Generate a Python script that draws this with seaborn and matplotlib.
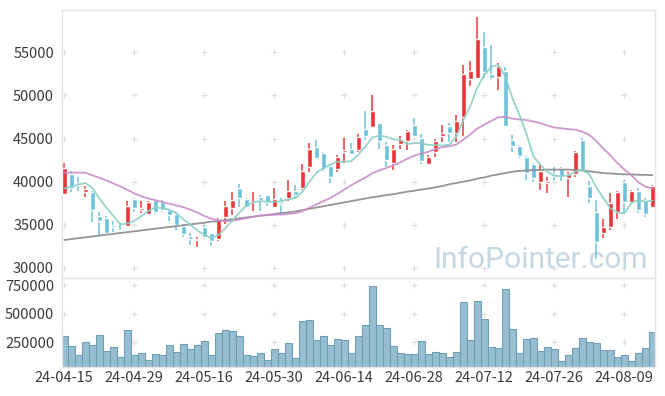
import matplotlib
matplotlib.use("Agg")
import matplotlib.pyplot as plt
import numpy as np
import pandas as pd
import seaborn as sns

# daily candles, 24-04-15 .. 24-08-16 (KRX trading days)
holidays = ["2024-05-01", "2024-05-06", "2024-05-15", "2024-06-06", "2024-08-15"]

open_ = [38600, 40900, 39800, 38850, 38850, 36050, 35800, 35000, 34450, 34900,
         38000, 36700, 36250, 37850, 37600, 36700, 36300, 34900, 33700, 33250,
         34750, 34000, 33300, 35900, 37000, 39300, 38000, 37600, 38250, 38450,
         37100, 37600, 38100, 38900, 39300, 41750, 44050, 43350, 41850, 41450,
         43400, 43800, 43700, 46100, 46300, 46800, 44300, 42200, 44350, 44750,
         46600, 45100, 42050, 43400, 45300, 46450, 45700, 47550, 51900, 52000,
         55600, 52500, 52100, 52850, 44850, 44150, 42850, 42050, 40000, 39800,
         40850, 41550, 40450, 40850, 44850, 39500, 36500, 34000, 34700, 36450,
         40000, 37600, 38900, 37850, 37100]
high = [42150, 41250, 40600, 39550, 38950, 36450, 36050, 35500, 35200, 37750,
        38150, 37800, 37770, 38000, 37850, 36800, 36500, 35100, 34000, 33600,
        34950, 34100, 35800, 37800, 38850, 39750, 38150, 38750, 38450, 38500,
        39250, 38150, 40150, 39650, 42050, 44450, 44850, 43400, 41950, 43100,
        45050, 44450, 45550, 48150, 50050, 46850, 44550, 44250, 45250, 46000,
        47350, 45550, 43100, 44900, 46600, 46800, 47750, 53550, 53950, 59150,
        57400, 55850, 53800, 53350, 45450, 44250, 43000, 42150, 41950, 40600,
        41750, 41650, 41100, 43550, 45050, 40100, 37900, 35700, 38650, 38950,
        40200, 39050, 39250, 38100, 39650]
low = [38450, 38750, 38900, 38200, 35300, 33850, 34000, 34150, 34200, 34850,
       36500, 36350, 36150, 36300, 36500, 35500, 34350, 33550, 32700, 32400,
       33350, 32600, 33100, 35100, 36100, 37100, 36900, 36650, 36600, 37200,
       36900, 36350, 37750, 38100, 39050, 41150, 42650, 41250, 39800, 41100,
       42150, 43150, 43500, 44850, 46200, 43750, 41700, 41300, 43750, 43700,
       45200, 42050, 41950, 42900, 44650, 44650, 44550, 45300, 51100, 51900,
       52000, 51800, 50650, 46400, 43400, 42800, 40200, 39950, 39050, 38650,
       40200, 40100, 38250, 40500, 41100, 37500, 31000, 33500, 34400, 35700,
       36350, 37500, 36400, 35850, 37100]
close = [41600, 39300, 39600, 39150, 36750, 35500, 34050, 34700, 34300, 37200,
         37000, 36900, 37600, 36450, 36750, 36150, 34950, 33900, 33350, 33350,
         33600, 33100, 35700, 37200, 37900, 38150, 37100, 37700, 37850, 37600,
         38000, 37450, 38950, 38400, 41250, 43800, 42800, 41500, 40600, 42900,
         43700, 43250, 45200, 45300, 48200, 44750, 42550, 43750, 44900, 45900,
         45300, 42350, 42900, 44750, 45700, 45700, 47050, 52500, 52850, 56550,
         52700, 52000, 53450, 46450, 44100, 43000, 41000, 40400, 41250, 40100,
         40700, 40700, 40900, 43400, 41250, 38100, 33050, 34750, 37500, 38750,
         37600, 38950, 36750, 36250, 39450]
volume = [300000, 211900, 132500, 247100, 220700, 308900, 167800, 203100, 114900, 352900,
          132500, 150200, 88400, 141300, 132500, 220700, 159000, 229500, 185400, 220700,
          256000, 132500, 326500, 352900, 344100, 300000, 132500, 123700, 150200, 88400,
          185400, 150200, 238300, 106100, 435200, 441100, 264800, 300000, 220700, 273600,
          264800, 150200, 300000, 397000, 740900, 397000, 370600, 211900, 150200, 141300,
          141300, 256000, 141300, 159000, 150200, 114900, 159000, 599800, 264800, 608600,
          449900, 203100, 194200, 714400, 361800, 150200, 273600, 282400, 167800, 203100,
          185400, 79600, 132500, 194200, 282400, 247100, 238300, 176600, 176600, 114900,
          132500, 79600, 150200, 194200, 335300]

# moving averages as drawn on the chart
ma5 = [39200, 39400, 39700, 39850, 39280, 38060, 37010, 36030, 35060, 35150,
       35450, 36020, 36600, 37030, 36940, 36770, 36380, 35640, 35020, 34340,
       33830, 33460, 33820, 34590, 35500, 36410, 37210, 37610, 37740, 37680,
       37650, 37720, 37970, 38080, 38810, 39970, 41040, 41550, 41990, 42320,
       42300, 42390, 43130, 44070, 45130, 45340, 45200, 44910, 44830, 44370,
       44480, 44440, 44270, 44240, 44200, 44280, 45220, 47140, 48760, 50930,
       52330, 53320, 53510, 52230, 49740, 47800, 45600, 42990, 41950, 41150,
       40690, 40630, 40730, 41160, 41390, 40870, 39340, 38110, 36930, 36430,
       36330, 37510, 37910, 37660, 37800]
ma20 = [41050, 41050, 41050, 41050, 40750, 40450, 40150, 39800, 39450, 39050,
        38650, 38300, 38050, 37850, 37650, 37450, 37250, 37050, 36750, 36430,
        36030, 35720, 35520, 35430, 35480, 35620, 35770, 35920, 36100, 36120,
        36170, 36190, 36260, 36360, 36580, 36970, 37360, 37740, 38100, 38580,
        39080, 39590, 40070, 40470, 40990, 41320, 41590, 41890, 42240, 42660,
        43020, 43270, 43470, 43780, 44010, 44100, 44310, 44860, 45480, 46160,
        46610, 47050, 47460, 47520, 47310, 47220, 47150, 46980, 46800, 46510,
        46280, 46190, 46090, 46030, 45800, 45420, 44720, 43840, 43070, 42180,
        41420, 40770, 39940, 39430, 39190]
ma_long = [33250, 33350, 33450, 33550, 33650, 33750, 33850, 33950, 34050, 34150,
           34250, 34350, 34450, 34550, 34650, 34750, 34850, 34950, 35050, 35150,
           35250, 35350, 35450, 35550, 35650, 35750, 35850, 35950, 36050, 36150,
           36250, 36350, 36450, 36550, 36700, 36850, 37000, 37150, 37300, 37450,
           37600, 37750, 37900, 38050, 38200, 38300, 38450, 38550, 38700, 38850,
           38950, 39100, 39200, 39350, 39500, 39700, 39850, 40000, 40150, 40350,
           40500, 40700, 40850, 41000, 41150, 41250, 41300, 41350, 41350, 41400,
           41400, 41400, 41400, 41350, 41300, 41200, 41100, 41000, 40950, 40900,
           40850, 40850, 40800, 40800, 40750]

price_ticks = [30000, 35000, 40000, 45000, 50000, 55000]
volume_ticks = [250000, 500000, 750000]

dates = pd.bdate_range("2024-04-15", "2024-08-16")
dates = dates[~dates.isin(pd.to_datetime(holidays))]

df = pd.DataFrame({"date": dates, "open": open_, "high": high, "low": low,
                   "close": close, "volume": volume,
                   "ma5": ma5, "ma20": ma20, "ma_long": ma_long})
df["idx"] = np.arange(len(df))

UP, DOWN = "#ec3438", "#6cc3d9"
GRID = "#dedede"
TXT = "#3a3a3a"

sns.set_style("white")
plt.rcParams["font.family"] = ["Noto Sans CJK KR", "DejaVu Sans"]

fig = plt.figure(figsize=(6.65, 3.96), dpi=100)
ax = fig.add_axes([0.0928, 0.2972, 0.8922, 0.6768])
axv = fig.add_axes([0.0928, 0.0732, 0.8922, 0.224])

xlim = (-0.37, len(df) - 0.61)
tick_idx = df["idx"][::10].tolist()
tick_lbl = df["date"][::10].dt.strftime("%y-%m-%d").tolist()

# candles
up = df["close"] >= df["open"]
colors = np.where(up, UP, DOWN)
body_lo = df[["open", "close"]].min(axis=1)
body_h = (df["close"] - df["open"]).abs().clip(lower=90)
ax.vlines(df["idx"], df["low"], df["high"], colors=colors, lw=1.1, zorder=2)
ax.bar(df["idx"], body_h, bottom=body_lo, width=0.68, color=colors, zorder=3)

sns.lineplot(data=df, x="idx", y="ma_long", ax=ax, color="#8a8a8a", lw=1.3, alpha=0.9, zorder=4)
sns.lineplot(data=df, x="idx", y="ma20", ax=ax, color="#c98cc8", lw=1.3, alpha=0.9, zorder=4)
sns.lineplot(data=df, x="idx", y="ma5", ax=ax, color="#8ccfc5", lw=1.3, alpha=0.9, zorder=4)

ax.set_xlim(*xlim)
ax.set_ylim(28800, 59870)
ax.set_yticks(price_ticks)
ax.set_yticklabels([str(t) for t in price_ticks])
ax.set_xticks(tick_idx)
ax.set_xticklabels([])
gx, gy = np.meshgrid(tick_idx, price_ticks)
ax.scatter(gx.ravel(), gy.ravel(), marker="+", s=22, lw=0.8, color=GRID, zorder=0)

ax.text(0.988, 0.04, "InfoPointer.com", transform=ax.transAxes, ha="right",
        va="baseline", fontsize=21.5, color="#c4d8e3", family=["Roboto", "DejaVu Sans"],
        zorder=1)

# volume
sns.barplot(data=df, x="idx", y="volume", ax=axv, native_scale=True, width=0.95,
            color="#96bed0", edgecolor="#6f9fb7", linewidth=0.8, saturation=1, zorder=2)
axv.set_xlim(*xlim)
axv.set_ylim(30000, 811700)
axv.set_yticks(volume_ticks)
axv.set_yticklabels([str(t) for t in volume_ticks])
axv.set_xticks(tick_idx)
axv.set_xticklabels(tick_lbl)
gx, gy = np.meshgrid(tick_idx, volume_ticks)
axv.scatter(gx.ravel(), gy.ravel(), marker="+", s=22, lw=0.8, color=GRID, zorder=0)

for a in (ax, axv):
    a.set_xlabel("")
    a.set_ylabel("")
    a.tick_params(length=0, labelsize=10.5, labelcolor=TXT)
    a.tick_params(axis="y", pad=5.5)
    a.tick_params(axis="x", pad=3)
    for s in a.spines.values():
        s.set_color("#e4e4e4")
        s.set_linewidth(1)

fig.savefig("out.png", dpi=100)
